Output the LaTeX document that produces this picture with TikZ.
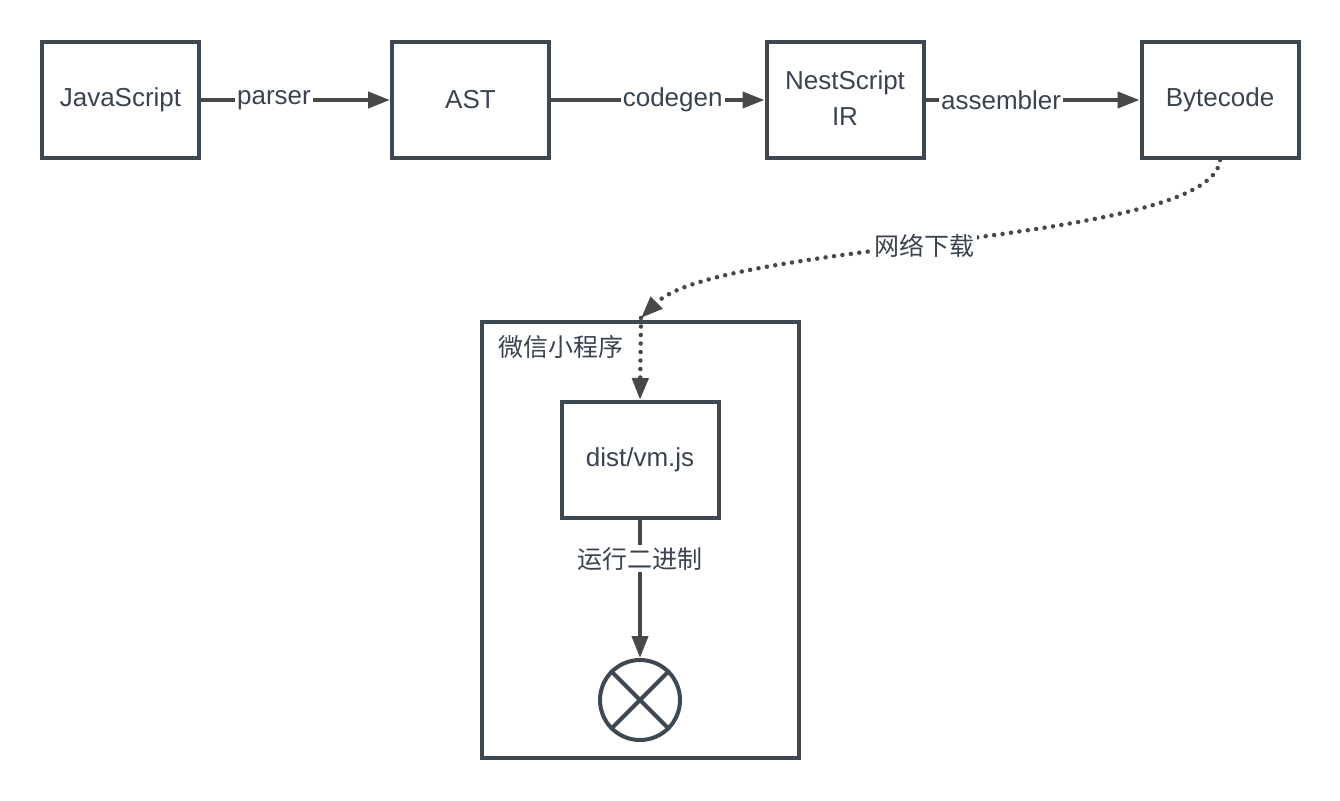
\documentclass[tikz,border=0pt]{standalone}
\usepackage{fontspec}
\setmainfont{Liberation Sans}
\newfontfamily\cjk{Noto Sans CJK SC}
\usetikzlibrary{arrows.meta}
\definecolor{boxc}{RGB}{61,72,82}
\definecolor{arrc}{RGB}{72,72,72}
\definecolor{txtc}{RGB}{58,68,80}
\tikzset{
  stepbox/.style={draw=boxc, line width=4pt, fill=white, minimum width=157pt, minimum height=116pt,
     inner sep=0pt, text=txtc, font=\fontsize{26pt}{36pt}\selectfont, align=center},
  flow/.style={draw=arrc, line width=4pt, -{Triangle[length=22pt,width=16pt]}},
  dotflow/.style={draw=arrc, line width=4.5pt, line cap=round, dash pattern=on 0pt off 8.5pt, -{Triangle[length=22pt,width=16pt]}},
  lbl/.style={fill=white, text=txtc, inner sep=2pt, font=\fontsize{26pt}{30pt}\selectfont},
  cjklbl/.style={fill=white, text=txtc, inner sep=2pt, font=\cjk\fontsize{25pt}{30pt}\selectfont},
}
\begin{document}
\begin{tikzpicture}[x=1pt,y=-1pt]
\useasboundingbox (0,0) rectangle (1340,800);
\node[stepbox] (js) at (120.5,100) {JavaScript};
\node[stepbox] (ast) at (470.5,100) {AST};
\node[stepbox] (ns) at (845,100) {\raisebox{3pt}{NestScript}\\\raisebox{3pt}{IR}};
\node[stepbox] (bc) at (1220,100) {Bytecode};

\node[draw=boxc, line width=4pt, minimum width=317pt, minimum height=436pt, inner sep=0pt, fill=white] (wx) at (640.5,540) {};
\node[anchor=west, text=txtc, font=\cjk\fontsize{25pt}{30pt}\selectfont] (wxl) at (495,347) {微信小程序};
\node[stepbox] (vm) at (640,460) {dist/vm.js};
\node[draw=boxc, line width=4pt, circle, minimum size=80pt, inner sep=0pt, fill=white] (end) at (640,700) {};
\draw[boxc, line width=4pt] (end.north west) -- (end.south east) (end.north east) -- (end.south west);

\draw[flow] (js.east) -- node[lbl, pos=0.386] {parser} (ast.west);
\draw[flow] (ast.east) -- node[lbl, pos=0.57] {codegen} (ns.west);
\draw[flow] (ns.east) -- node[lbl, pos=0.353] {assembler} (bc.west);

\coordinate (dl) at (641,318);
\draw[dotflow] (bc.south) .. controls (1212,245) and (720,240) .. node[cjklbl, pos=0.54] {网络下载} (dl);
\draw[dotflow] (dl) -- (vm.north);
\draw[flow] (vm.south) -- node[cjklbl, pos=0.28] {运行二进制} (end.north);
\end{tikzpicture}
\end{document}
